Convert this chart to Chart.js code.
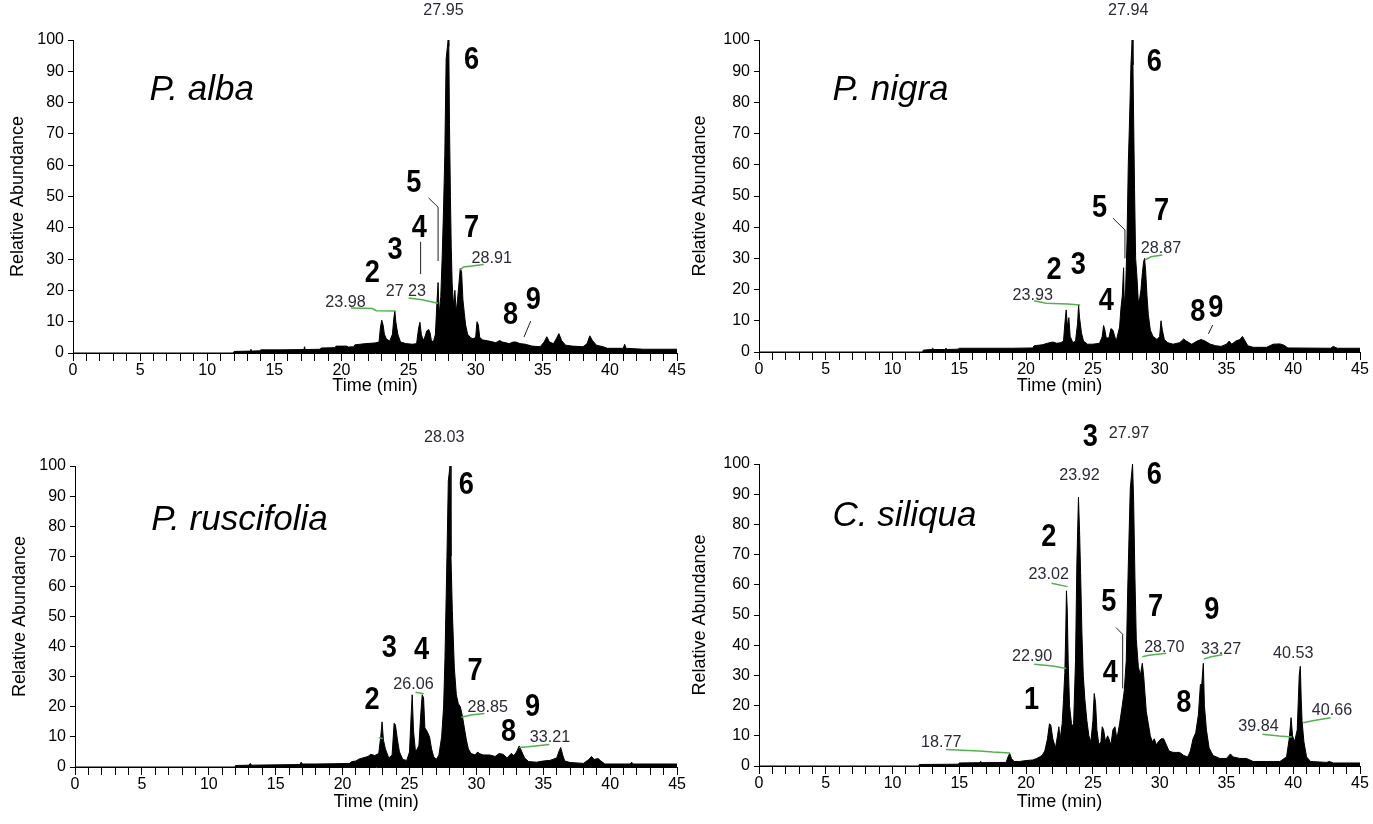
<!DOCTYPE html>
<html lang="en">
  <head>
    <meta charset="UTF-8" />
    <style>
      body { margin: 0; background: #fff; }
      canvas { position: absolute; }
    </style>
  </head>
  <body>
    <canvas id="alba" width="686" height="412" style="left:0;top:0"></canvas>
    <canvas id="nigra" width="687" height="412" style="left:686px;top:0"></canvas>
    <canvas id="rusc" width="686" height="412" style="left:0;top:412px"></canvas>
    <canvas id="sili" width="687" height="412" style="left:686px;top:412px"></canvas>

    <script src="https://cdn.jsdelivr.net/npm/chart.js@4.4.0/dist/chart.umd.min.js"></script>
    <script>
      // [time (min), relative abundance (%)]
      var albaTrace = [
        [0,0],[11.95,0],[12.0,0.5],[13.2,0.6],[13.25,1.2],[13.3,0.6],[13.9,0.7],[14.0,1.0],[15.5,1.0],[17.2,1.1],
        [17.25,2.0],[17.3,1.1],[18.4,1.2],[18.5,1.6],[19.5,1.7],[19.6,2.2],[20.4,2.2],[20.5,1.9],[20.9,2.0],[21.0,2.6],
        [21.4,2.8],[21.8,3.0],[22.5,3.2],[22.8,3.5],[22.9,8],[23.0,10.5],[23.1,9],[23.2,6],[23.35,4.5],[23.6,3.8],
        [23.8,6],[23.9,11],[23.98,13.5],[24.05,10],[24.2,6],[24.4,3.5],[24.8,3.0],[25.3,2.8],[25.6,3.0],[25.75,8],
        [25.85,9.8],[25.95,6],[26.1,4.0],[26.25,5.5],[26.35,7],[26.5,7.5],[26.6,6.5],[26.7,4],[26.85,3.5],[27.0,6],
        [27.1,15],[27.2,22.5],[27.28,12],[27.4,18],[27.5,30],[27.6,45],[27.7,63],[27.8,94],[27.95,100],[28.0,98],
        [28.05,73],[28.12,50],[28.18,34],[28.25,22],[28.35,15],[28.45,20],[28.55,13],[28.65,17],[28.75,22],[28.85,27],
        [28.95,26],[29.05,17],[29.15,13],[29.25,9],[29.4,6],[29.6,5],[29.8,4.5],[30.0,5],[30.1,10],[30.2,9],
        [30.3,5],[30.5,4.2],[31.0,3.8],[31.5,3.3],[31.8,4],[32.0,3.5],[32.5,3],[32.8,3.5],[33.0,3.5],[33.3,3.0],
        [33.7,2.8],[34.2,2.2],[34.8,2.0],[35.1,3.5],[35.3,5.2],[35.5,3.5],[35.8,3.0],[36.0,4.5],[36.2,6.2],[36.4,4],
        [36.7,2.5],[37.2,2.2],[38.0,2.0],[38.3,3],[38.5,5.5],[38.7,4],[39.0,2.5],[39.5,2.0],[39.8,1.5],[41.0,1.5],
        [41.1,2.8],[41.2,1.5],[42.5,1.2],[45,1.2]
      ];
      var nigraTrace = [
        [0,0],[12.25,0],[12.3,0.6],[12.9,0.8],[13.0,1.2],[13.1,0.8],[13.9,0.8],[14.0,1.2],[14.1,0.8],[14.9,0.9],
        [15.0,1.2],[17.5,1.2],[19.0,1.2],[20.5,1.3],[20.6,2.0],[21.2,2.3],[21.6,2.8],[22.0,3.2],[22.3,2.8],[22.6,3.0],
        [22.8,3.5],[22.9,9],[23.0,13.5],[23.1,8],[23.2,11],[23.3,5],[23.5,3],[23.7,3.5],[23.85,9],[23.93,15],
        [24.0,11],[24.15,6],[24.3,3.5],[24.6,2.5],[25.0,2.5],[25.5,2.8],[25.7,5],[25.8,8.5],[25.9,7],[26.0,4.5],
        [26.2,4.5],[26.35,7.5],[26.5,7],[26.6,5.5],[26.75,3.5],[27.0,8],[27.1,14],[27.2,18],[27.3,27],[27.35,15],
        [27.45,20],[27.55,35],[27.65,60],[27.75,75],[27.85,92],[27.94,100],[28.0,92],[28.05,75],[28.12,52],[28.2,30],
        [28.3,24],[28.4,16],[28.5,17],[28.6,20],[28.7,25],[28.8,29],[28.87,30],[28.95,26],[29.05,18],[29.15,12],
        [29.3,7],[29.5,5],[29.8,4],[30.0,5],[30.1,10],[30.2,7],[30.35,4],[30.6,3],[31.0,2.5],[31.5,3],
        [31.8,4.2],[32.0,3.5],[32.4,2.5],[32.8,3.5],[33.1,4],[33.4,3.5],[33.8,2.5],[34.2,2],[34.6,1.8],[35.0,2.5],
        [35.2,3.5],[35.4,2.5],[35.7,3.5],[36.0,4],[36.2,5],[36.4,3.5],[36.6,2],[37.0,1.5],[38.0,1.5],[38.5,2.5],
        [39.0,2.6],[39.3,2.2],[39.6,1.3],[42.8,1.2],[43.0,1.8],[43.3,1.2],[45,1.2]
      ];
      var ruscTrace = [
        [0,0],[11.95,0],[12.0,0.5],[13.0,0.6],[13.1,1.2],[13.2,0.6],[14.5,0.7],[16.8,0.8],[16.9,1.6],[17.0,1.0],
        [18.0,1.0],[19.5,1.1],[20.5,1.2],[20.7,1.8],[21.0,2.0],[21.2,2.6],[21.5,3.0],[21.9,3.5],[22.1,4.2],[22.4,3.8],
        [22.7,4.5],[22.85,10],[22.95,15],[23.05,9],[23.2,6],[23.45,3],[23.7,4],[23.85,14.5],[23.95,14],[24.1,9],
        [24.25,5],[24.5,2.5],[24.8,2.2],[25.0,5],[25.1,15],[25.2,24],[25.3,12],[25.45,5],[25.7,7],[25.85,18],
        [25.95,24],[26.05,23],[26.15,13],[26.3,12],[26.5,10],[26.65,6],[26.8,3.5],[27.0,2.5],[27.2,4],[27.4,10],
        [27.55,20],[27.65,36],[27.8,70],[27.9,95],[28.03,100],[28.1,70],[28.2,52],[28.35,33],[28.5,24],[28.65,21],
        [28.8,20],[28.95,17],[29.1,13],[29.25,9],[29.4,6],[29.6,4.5],[29.9,4],[30.1,5],[30.2,4.5],[30.5,4],
        [31.0,4],[31.4,3.5],[31.7,4.5],[32.0,4.2],[32.3,3],[32.6,4.5],[32.8,3.8],[33.0,5],[33.2,7],[33.4,5],
        [33.6,3],[33.9,1.8],[34.5,1.6],[35.0,2],[35.5,2.2],[36.0,3],[36.2,5.5],[36.3,6.5],[36.45,4],[36.6,2],
        [37.0,1.5],[38.0,1.2],[38.4,2.5],[38.6,3.5],[38.8,2.5],[39.1,2.8],[39.3,2],[39.6,1],[41.5,1],[41.6,1.6],
        [41.7,1],[45,1]
      ];
      var siliTrace = [
        [0,0],[11.95,0],[12.0,0.5],[14.9,0.6],[15.0,1.0],[16.5,1.1],[16.6,1.5],[16.7,1.1],[18.5,1.2],[18.65,3],
        [18.77,4.2],[18.9,2.5],[19.1,1.5],[19.5,1.5],[20.0,1.8],[20.5,2.0],[20.8,2.5],[21.0,3],[21.2,3.5],[21.4,5],
        [21.6,9],[21.75,14],[21.85,13.5],[22.0,9],[22.2,6],[22.35,10],[22.45,13],[22.55,9],[22.7,14],[22.8,22],
        [22.9,31],[22.97,45],[23.02,58],[23.08,52],[23.15,35],[23.25,20],[23.4,14],[23.55,13],[23.7,35],[23.8,67],
        [23.92,89],[24.0,78],[24.08,64],[24.18,44],[24.28,30],[24.4,22],[24.55,15],[24.7,10],[24.85,8],[25.0,15],
        [25.1,24],[25.2,21],[25.3,12],[25.45,7],[25.6,8],[25.7,13],[25.8,12],[25.95,8],[26.1,10],[26.2,9],
        [26.35,7],[26.5,12],[26.65,13],[26.8,9],[27.0,14],[27.2,20],[27.35,25],[27.5,35],[27.6,57],[27.7,75],
        [27.8,92],[27.97,100],[28.05,88],[28.15,62],[28.25,42],[28.4,33],[28.55,30],[28.7,34],[28.8,30],[28.9,24],
        [29.0,18],[29.15,14],[29.3,10],[29.45,8],[29.6,9],[29.75,7],[29.9,8],[30.1,9],[30.3,9],[30.5,7],
        [30.7,5],[31.0,4.5],[31.5,4.5],[31.8,3.5],[32.1,3],[32.3,5],[32.5,9],[32.7,11],[32.9,17],[33.05,27],
        [33.15,27],[33.27,34],[33.35,20],[33.5,12],[33.7,6],[34.0,3.5],[34.5,2.5],[35.0,2.5],[35.3,4],[35.5,3],
        [36.0,2.5],[36.5,2.5],[37.0,1.5],[38.5,1.5],[39.0,1.5],[39.5,3],[39.7,9],[39.84,16],[39.95,10],[40.1,8],
        [40.3,12],[40.45,30],[40.53,33],[40.6,22],[40.66,15],[40.8,8],[41.0,3],[41.3,1.5],[42.5,1.2],[42.7,1.5],
        [43.0,1],[45,1]
      ];

      var xTickStep = 1;
      var xLabelEvery = 5;
      var yTickStep = 10;

      // annotations: species name, peak numbers, retention-time labels, green and black leader lines
      var albaNotes = {
        species: ["P. alba", 5.7, 80.8],
        nums: [["6",29.7,93.6],["5",25.4,54.3],["4",25.8,40],["3",24.0,32.9],["2",22.3,25.6],["7",29.7,40],["8",32.6,12.1],["9",34.3,16.9]],
        times: [["27.95",27.6,109.6],["23.98",20.3,16.3],["27 23",24.8,19.8],["28.91",31.2,30.4]],
        green: [[[20.7,14.4],[22.3,14.2],[22.6,13.5],[24.0,13.4]],[[25.0,17.6],[26.0,17.0],[27.2,15.9]],[[28.85,26.5],[29.1,27.5],[30.6,28.3]]],
        leaders: [[[26.5,49.5],[27.2,46.6],[27.2,29.4]],[[25.9,35.5],[25.9,25.2]],[[34.1,10.2],[33.6,5.1]]]
      };
      var nigraNotes = {
        species: ["P. nigra", 5.5, 80.8],
        nums: [["6",29.6,93],["5",25.5,46],["7",30.15,45],["2",22.1,26.3],["3",23.9,27.9],["4",26.0,16.4],["8",32.85,12.9],["9",34.2,14]],
        times: [["27.94",27.65,109.6],["23.93",20.5,18.3],["28.87",30.1,33.2]],
        green: [[[20.6,16.4],[21.5,15.6],[23.1,15.4],[24.05,15.1]],[[28.9,29.5],[29.35,30.5],[30.2,31.1]]],
        leaders: [[[26.5,42.9],[27.4,39.1],[27.4,30]],[[33.97,8.65],[33.65,5.8]]]
      };
      var ruscNotes = {
        species: ["P. ruscifolia", 5.7, 78.7],
        nums: [["6",29.25,93.7],["3",23.5,39.4],["4",25.9,38.9],["7",29.9,31.7],["2",22.2,22.3],["8",32.4,11.7],["9",34.2,20]],
        times: [["28.03",27.6,109.6],["26.06",25.3,27.5],["28.85",30.85,19.8],["33.21",35.5,10]],
        green: [[[25.45,24.8],[26.06,24.3]],[[28.87,16.5],[29.6,17.3],[30.6,17.8]],[[33.2,6.5],[33.85,6.7],[35.45,7.5]],[[22.7,9.7],[23.0,9.5]]],
        leaders: []
      };
      var siliNotes = {
        species: ["C. siliqua", 5.5, 79.5],
        nums: [["3",24.8,109],["6",29.6,96.4],["2",21.7,75.9],["5",26.2,54.4],["7",29.7,52.7],["9",33.9,51.7],["4",26.3,30.7],["1",20.4,21.9],["8",31.8,20.8]],
        times: [["27.97",27.7,110],["23.92",24.0,96.4],["23.02",21.7,63.5],["22.90",20.45,36.2],["28.70",30.35,39.2],["33.27",34.6,38.7],
                ["40.53",40.0,37.3],["39.84",37.4,13],["40.66",42.9,18.3],["18.77",13.65,7.9]],
        green: [[[21.9,60.5],[23.1,59.4]],[[20.6,33.7],[22.0,33.1],[23.0,32.3]],[[28.7,36.2],[29.2,36.7],[30.5,37.3]],
                [[33.3,35.4],[33.85,36.2],[34.7,36.8]],[[37.7,10.5],[38.96,9.9],[39.9,9.6]],[[40.75,14.3],[41.45,15],[42.8,16]],
                [[14.0,5.5],[16.5,5.0],[17.5,4.6],[18.8,4.3]]],
        leaders: [[[26.74,45.8],[27.23,43.6],[27.23,25.7]]]
      };

      var FONT = '"Liberation Sans", Arial, sans-serif';

      function notesPlugin(n) {
        return {
          id: "notes",
          afterDraw: function (chart) {
            var c = chart.ctx;
            var xs = chart.scales.x, ys = chart.scales.y;
            function poly(pts) {
              c.beginPath();
              pts.forEach(function (p, i) {
                var X = xs.getPixelForValue(p[0]), Y = ys.getPixelForValue(p[1]);
                if (i === 0) c.moveTo(X, Y); else c.lineTo(X, Y);
              });
              c.stroke();
            }
            // narrow, tall lettering like the original figure
            function tall(t, sx) {
              c.save();
              c.translate(xs.getPixelForValue(t[1]), ys.getPixelForValue(t[2]));
              c.scale(sx, 1);
              c.fillText(t[0], 0, 0);
              c.restore();
            }
            c.save();
            c.lineWidth = 1.5;
            c.strokeStyle = "#52b04f";
            n.green.forEach(poly);
            c.lineWidth = 1;
            c.strokeStyle = "#222";
            n.leaders.forEach(poly);

            c.textAlign = "center";
            c.textBaseline = "middle";
            c.fillStyle = "#2b2b36";
            c.font = "17px " + FONT;
            n.times.forEach(function (t) { tall(t, 0.95); });
            c.fillStyle = "#000";
            c.font = "bold 32px " + FONT;
            n.nums.forEach(function (t) { tall(t, 0.85); });
            c.textAlign = "left";
            c.textBaseline = "alphabetic";
            c.font = "italic 35px " + FONT;
            c.fillText(n.species[0], xs.getPixelForValue(n.species[1]), ys.getPixelForValue(n.species[2]));
            c.restore();
          }
        };
      }

      function makePanel(id, trace, notes, box) {
        var ctx = document.getElementById(id).getContext("2d");
        return new Chart(ctx, {
          type: "line",
          data: {
            datasets: [
              {
                data: trace.map(function (p) { return { x: p[0], y: p[1] }; }),
                fill: "origin",
                backgroundColor: "#000",
                borderColor: "#000",
                borderWidth: 1,
                pointRadius: 0,
                tension: 0
              }
            ]
          },
          options: {
            responsive: false,
            animation: false,
            events: [],
            layout: { padding: { left: 0, top: box.top, right: box.right, bottom: 0 } },
            plugins: { legend: { display: false }, tooltip: { enabled: false } },
            scales: {
              x: {
                type: "linear",
                min: 0,
                max: 45,
                afterFit: function (s) { s.height = box.xh; },
                ticks: {
                  stepSize: xTickStep,
                  autoSkip: false,
                  maxRotation: 0,
                  padding: 0,
                  color: "#000",
                  font: { family: FONT, size: 16 },
                  callback: function (v) { return v % xLabelEvery === 0 ? String(v) : ""; }
                },
                grid: { drawOnChartArea: false, tickLength: 8, color: "#000" },
                border: { color: "#000", width: 1 },
                title: {
                  display: true,
                  text: "Time (min)",
                  color: "#000",
                  font: { family: FONT, size: 18 },
                  padding: { top: 0, bottom: box.tb }
                }
              },
              y: {
                min: 0,
                max: 100,
                afterFit: function (s) { s.width = box.left; },
                ticks: {
                  stepSize: yTickStep,
                  padding: 4,
                  color: "#000",
                  font: { family: FONT, size: 16 }
                },
                grid: { drawOnChartArea: false, tickLength: 5, color: "#000" },
                border: { color: "#000", width: 1 },
                title: {
                  display: true,
                  text: "Relative Abundance",
                  color: "#000",
                  font: { family: FONT, size: 18 },
                  padding: { top: box.yt, bottom: 0 }
                }
              }
            }
          },
          plugins: [notesPlugin(notes)]
        });
      }

      makePanel("alba", albaTrace, albaNotes, { left: 73, top: 40, right: 9, xh: 59, tb: 15.2, yt: 7.2 });
      makePanel("nigra", nigraTrace, nigraNotes, { left: 73, top: 40, right: 13, xh: 60, tb: 15.2, yt: 3.2 });
      makePanel("rusc", ruscTrace, ruscNotes, { left: 75, top: 54, right: 8, xh: 57, tb: 11.2, yt: 9.2 });
      makePanel("sili", siliTrace, siliNotes, { left: 73, top: 52, right: 13, xh: 58, tb: 11.2, yt: 3.2 });
    </script>
  </body>
</html>
